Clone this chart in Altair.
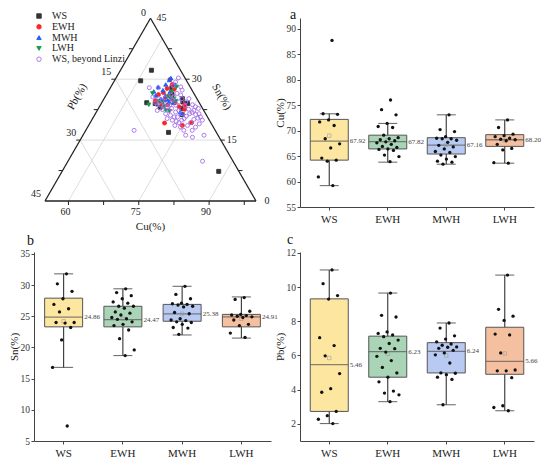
import altair as alt
import pandas as pd

FONT = "'Liberation Serif', 'Times New Roman', Times, serif"

# ---------------- box-plot data ----------------
GROUPS = ["WS", "EWH", "MWH", "LWH"]
BOX_FILL = ["#FCE6A0", "#A9D4B6", "#B9CAF2", "#F5C0A0"]

CU_WS = [87.7, 73.3, 73.2, 72.1, 71.7, 71.0, 68.4, 67.4, 66.6, 64.6, 64.2, 64.0, 60.9, 59.2]
CU_EWH = [76.0, 74.1, 73.1, 71.4, 70.8, 70.6, 69.1, 68.6, 68.4, 68.2, 68.0, 67.8, 67.6, 67.3,
          66.9, 66.7, 66.4, 66.3, 66.1, 65.2, 64.9, 63.9]
CU_MWH = [73.1, 70.2, 69.8, 68.8, 68.5, 68.4, 68.4, 68.1, 67.7, 67.1, 66.8, 66.4, 65.9, 65.7,
          65.2, 64.9, 64.4, 64.0, 63.8, 63.4]
CU_LWH = [72.1, 70.6, 69.3, 69.0, 68.8, 68.5, 68.3, 68.2, 68.0, 67.3, 66.5, 66.2, 63.7, 63.6]
CU_Q1 = [64.2, 66.4, 65.4, 66.9]
CU_MED = [67.92, 67.82, 67.16, 68.20]
CU_Q3 = [72.2, 69.1, 68.6, 69.2]
CU_LO = [59.2, 63.8, 63.4, 63.6]
CU_HI = [73.3, 71.4, 73.1, 72.1]
CU_MEAN = [69.0, 68.1, 67.2, 68.1]

SN_WS = [31.8, 30.2, 29.0, 27.8, 26.9, 26.2, 25.7, 24.0, 23.9, 24.0, 23.2, 21.2, 16.8, 7.4]
SN_EWH = [29.4, 28.8, 28.3, 27.8, 27.3, 27.1, 26.6, 26.6, 26.3, 25.7, 25.5, 25.2, 24.8, 24.6,
          24.5, 24.1, 23.7, 23.5, 22.8, 21.4, 19.6, 18.7]
SN_MWH = [29.8, 28.5, 27.8, 27.1, 27.0, 26.9, 26.8, 26.6, 26.5, 25.6, 25.4, 24.6, 24.4, 24.3,
          24.1, 24.0, 23.7, 23.2, 23.1, 22.1]
SN_LWH = [28.0, 27.7, 25.8, 25.3, 25.2, 25.1, 25.0, 24.9, 24.8, 24.4, 23.7, 23.5, 22.3, 21.6]
SN_Q1 = [23.3, 23.3, 24.2, 23.3]
SN_MED = [24.86, 24.47, 25.38, 24.91]
SN_Q3 = [27.9, 26.6, 26.9, 25.3]
SN_LO = [16.8, 18.7, 22.0, 21.5]
SN_HI = [31.8, 29.4, 29.8, 28.1]
SN_MEAN = [24.2, 24.6, 25.4, 24.6]

PB_WS = [11.0, 10.2, 9.5, 9.3, 7.04, 6.58, 5.98, 4.94, 4.06, 3.85, 2.73, 2.48, 2.27, 2.02]
PB_EWH = [9.65, 8.35, 8.25, 7.38, 7.29, 7.2, 7.1, 6.9, 6.7, 6.42, 6.4, 6.2, 5.95, 5.7, 5.3,
          4.98, 4.73, 4.46, 3.92, 3.8, 3.7, 3.3]
PB_MWH = [7.9, 7.6, 7.15, 6.96, 6.8, 6.67, 6.6, 6.5, 6.48, 6.42, 6.3, 6.15, 6.04, 5.56, 4.98,
          4.96, 4.88, 4.73, 4.6, 3.12]
PB_LWH = [10.7, 8.7, 8.3, 8.05, 7.25, 7.2, 6.15, 5.15, 5.1, 5.1, 4.7, 3.06, 2.96, 2.77]
PB_Q1 = [2.73, 4.73, 4.98, 4.90]
PB_MED = [5.46, 6.23, 6.24, 5.66]
PB_Q3 = [9.31, 7.13, 6.75, 7.65]
PB_LO = [2.02, 3.3, 3.12, 2.77]
PB_HI = [11.0, 9.65, 7.9, 10.7]
PB_MEAN = [5.85, 6.1, 6.0, 6.12]

# ---------------- ternary data (Sn %, Pb %; Cu = rest) ----------------
TERN_SERIES = ["WS", "EWH", "MWH", "LWH", "WS, beyond Linzi"]
TERN_SHAPE = ["square", "circle", "triangle-up", "triangle-down", "circle"]
TERN_FILL = ["#333333", "#FF2424", "#1E5CFF", "#109C4C", "transparent"]
TERN_STROKE = ["#333333", "#FF2424", "#1E5CFF", "#109C4C", "#A46FE6"]

T_WS_SN = [32.2, 29.6, 24.0, 24.2, 16.9, 7.3, 26.2, 27.9, 25.2, 24.4, 24.0, 21.3, 22.8, 23.1]
T_WS_PB = [6.2, 9.8, 9.5, 11.2, 10.2, 4.3, 4.8, 4.0, 3.1, 3.4, 2.6, 5.1, 4.4, 8.9]
T_EWH_SN = [29.9, 28.7, 27.7, 27.5, 26.7, 25.9, 25.2, 24.4, 24.2, 23.2, 22.6, 19.2, 18.6, 19.3,
            26.2, 25.2, 24.7, 23.6, 23.7, 23.7]
T_EWH_PB = [3.4, 3.5, 5.1, 3.7, 6.4, 5.6, 6.8, 8.1, 5.2, 4.8, 3.9, 9.9, 6.4, 4.1,
            7.7, 5.4, 9.1, 3.4, 7.0, 8.1]
T_MWH_SN = [30.3, 29.8, 28.1, 27.3, 27.0, 28.7, 26.9, 28.7, 25.0, 24.4, 24.8, 24.2, 21.9, 21.5,
            25.2, 26.0, 25.6, 26.0]
T_MWH_PB = [3.0, 3.6, 6.8, 6.2, 8.3, 4.9, 4.9, 2.9, 6.4, 6.3, 7.2, 5.6, 5.2, 5.1,
            7.7, 6.3, 5.1, 8.4]
T_LWH_SN = [28.1, 26.5, 25.1, 23.7, 22.3, 22.1, 23.2, 25.5, 25.6, 24.2, 24.6, 24.6, 26.9]
T_LWH_PB = [2.9, 8.8, 5.0, 11.0, 8.1, 7.4, 7.9, 5.5, 6.1, 7.9, 4.8, 8.4, 4.5]
T_OUT_SN = [30.3, 29.3, 28.1, 28.4, 27.3, 27.9, 27.9, 25.6, 25.2, 24.8, 25.4, 24.2, 23.7, 23.6,
            23.4, 23.2, 23.6, 22.8, 23.6, 24.4, 25.2, 24.4, 25.2, 23.7, 23.2, 22.8, 21.5, 21.3,
            21.8, 21.5, 20.9, 20.3, 19.9, 19.3, 19.6, 18.6, 18.2, 17.4, 16.2, 17.4, 18.2, 19.0,
            19.9, 16.2, 19.3, 18.6, 20.1, 20.7, 24.8, 22.3, 21.5, 21.1, 22.5, 22.3, 20.3, 19.9,
            20.7, 9.8, 17.4, 26.1, 26.5, 25.6, 23.4, 22.6, 22.3, 20.4, 21.5, 22.3, 21.9, 20.7,
            26.1, 15.7]
T_OUT_PB = [1.4, 2.5, 2.0, 3.5, 2.1, 8.8, 6.9, 9.2, 8.1, 7.6, 6.6, 9.3, 9.2, 8.5,
            7.9, 7.3, 6.6, 6.6, 5.3, 4.2, 3.2, 2.8, 1.7, 1.7, 1.3, 0.9, 1.4, 2.2,
            2.7, 3.4, 4.4, 5.2, 5.9, 6.8, 7.2, 8.0, 7.0, 6.7, 6.9, 4.9, 3.8, 2.6,
            1.5, 3.0, 4.3, 5.3, 3.2, 1.5, 5.4, 7.4, 8.5, 7.7, 8.7, 9.9, 8.8, 7.9,
            6.4, 6.5, 17.3, 3.0, 3.6, 4.7, 3.4, 3.1, 2.1, 2.2, 5.0, 5.3, 6.2, 7.1,
            5.1, 5.7]

SN_GRID = [15, 30]
PB_GRID = [15, 30]
CU_GRID = [60, 75, 90]
CU_TICKS = [60, 67.5, 75, 82.5, 90, 97.5]
SIDE_TICKS = [7.5, 15, 22.5, 30, 37.5]
CU_LABELS = [60, 75, 90]
PB_LABELS = [15, 30, 45]
PB_TOP_LABEL = [0]
SN_LABELS = [0, 15, 30, 45]

PANEL_H = 189
W_LEFT = 237
W_RIGHT = 234

# ---------------- ternary panel ----------------
XS = alt.Scale(domain=[-0.0521, 1.0711], nice=False, zero=False)
YS = alt.Scale(domain=[-0.0284, 0.8673], nice=False, zero=False)


def tx(sn, pb):
    return f"(45 - datum.{pb} - 0.5*datum.{sn})/45"


def ty(sn):
    return f"datum.{sn}/45*0.8660254"


def seg_chart(rows, color, width):
    df = pd.DataFrame(rows, columns=["sn1", "pb1", "sn2", "pb2"])
    return alt.Chart(df).transform_calculate(
        x1=tx("sn1", "pb1"), y1=ty("sn1"), x2=tx("sn2", "pb2"), y2=ty("sn2")
    ).mark_rule(color=color, strokeWidth=width).encode(
        x=alt.X("x1:Q", scale=XS, axis=None), y=alt.Y("y1:Q", scale=YS, axis=None),
        x2="x2:Q", y2="y2:Q")


grid_rows = ([(v, 45 - v, v, 0) for v in SN_GRID]
             + [(0, v, 45 - v, v) for v in PB_GRID]
             + [(0, 100 - c, 100 - c, 0) for c in CU_GRID])
edge_rows = [(45, 0, 0, 45), (0, 45, 0, 0), (0, 0, 45, 0)]
grid = seg_chart(grid_rows, "#d4d4d4", 0.8)
edges = seg_chart(edge_rows, "#222222", 1.3)


def pos_chart(df):
    return alt.Chart(df).transform_calculate(X=tx("sn", "pb"), Y=ty("sn"))


XE = alt.X("X:Q", scale=XS, axis=None)
YE = alt.Y("Y:Q", scale=YS, axis=None)

bot_df = pd.DataFrame({"sn": [0.0] * len(CU_TICKS), "pb": [100 - c for c in CU_TICKS]})
left_df = pd.DataFrame({"sn": [45 - v for v in SIDE_TICKS], "pb": SIDE_TICKS})
right_df = pd.DataFrame({"sn": SIDE_TICKS, "pb": [0.0] * len(SIDE_TICKS)})
ticks_b = pos_chart(bot_df).mark_rule(color="#222", strokeWidth=1, y2Offset=4).encode(x=XE, y=YE, y2="Y:Q")
ticks_l = pos_chart(left_df).mark_rule(color="#222", strokeWidth=1, x2Offset=-4).encode(x=XE, x2="X:Q", y=YE)
ticks_r = pos_chart(right_df).mark_rule(color="#222", strokeWidth=1, x2Offset=4).encode(x=XE, x2="X:Q", y=YE)


def lab_df(sn, pb, labs):
    return pd.DataFrame({"sn": sn, "pb": pb, "lab": [str(v) for v in labs]})


lab_b = lab_df([0.0] * 3, [100 - c for c in CU_LABELS], CU_LABELS)
lab_l = lab_df([45 - v for v in PB_LABELS], PB_LABELS, PB_LABELS)
lab_l0 = lab_df([45 - v for v in PB_TOP_LABEL], PB_TOP_LABEL, PB_TOP_LABEL)
lab_r = lab_df(SN_LABELS, [0.0] * 4, SN_LABELS)
tstyle = dict(font=FONT, fontSize=10, color="#222")
labels_b = pos_chart(lab_b).mark_text(dx=-3, dy=11, **tstyle).encode(x=XE, y=YE, text="lab:N")
labels_l = pos_chart(lab_l).mark_text(dx=-9, dy=-7.5, **tstyle).encode(x=XE, y=YE, text="lab:N")
labels_l0 = pos_chart(lab_l0).mark_text(dx=-7, dy=-5, **tstyle).encode(x=XE, y=YE, text="lab:N")
labels_r = pos_chart(lab_r).mark_text(dx=11, dy=0, **tstyle).encode(x=XE, y=YE, text="lab:N")

# offsets of rotated text are applied in the rotated frame
ttl = dict(font=FONT, fontSize=11, color="#222")
title_pb = pos_chart(pd.DataFrame({"sn": [22.7], "pb": [22.3], "lab": ["Pb(%)"]})).mark_text(
    angle=300, dx=0, dy=-24, **ttl).encode(x=XE, y=YE, text="lab:N")
title_sn = pos_chart(pd.DataFrame({"sn": [22.9], "pb": [0.0], "lab": ["Sn(%)"]})).mark_text(
    angle=60, dx=0, dy=-22, **ttl).encode(x=XE, y=YE, text="lab:N")
title_cu = pos_chart(pd.DataFrame({"sn": [0.0], "pb": [22.5], "lab": ["Cu(%)"]})).mark_text(
    dy=26, **ttl).encode(x=XE, y=YE, text="lab:N")

series_pts = [("WS", T_WS_SN, T_WS_PB), ("EWH", T_EWH_SN, T_EWH_PB), ("MWH", T_MWH_SN, T_MWH_PB),
              ("LWH", T_LWH_SN, T_LWH_PB), ("WS, beyond Linzi", T_OUT_SN, T_OUT_PB)]
tp = pd.DataFrame([{"series": s, "sn": a, "pb": b} for s, sns, pbs in series_pts for a, b in zip(sns, pbs)])
leg = alt.Legend(title=None, orient="none", legendX=0, legendY=-7, labelFont=FONT, labelFontSize=10,
                 labelColor="#222", symbolSize=20, symbolStrokeWidth=0.9, rowPadding=0.8,
                 labelOffset=8, padding=0)
points = pos_chart(tp).mark_point(size=16, strokeWidth=0.9, opacity=1).encode(
    x=XE, y=YE,
    shape=alt.Shape("series:N", scale=alt.Scale(domain=TERN_SERIES, range=TERN_SHAPE), legend=leg),
    fill=alt.Fill("series:N", scale=alt.Scale(domain=TERN_SERIES, range=TERN_FILL), legend=leg),
    stroke=alt.Stroke("series:N", scale=alt.Scale(domain=TERN_SERIES, range=TERN_STROKE), legend=leg),
)

tern = alt.layer(grid, edges, ticks_b, ticks_l, ticks_r, labels_b, labels_l, labels_l0, labels_r,
                 title_pb, title_sn, title_cu, points).properties(width=W_LEFT, height=PANEL_H)


# ---------------- box panels ----------------
def box_panel(lists, q1, med, q3, lo, hi, mean, domain, ticks, ytitle, letter, width,
              letter_dx, letter_dy):
    pts = pd.DataFrame({"g": [g for g, vs in zip(GROUPS, lists) for _ in vs],
                        "v": [v for vs in lists for v in vs]})
    st = pd.DataFrame({"g": GROUPS, "q1": q1, "med": med, "q3": q3, "lo": lo, "hi": hi, "mean": mean})
    xenc = alt.X("g:N", sort=GROUPS, title=None,
                 scale=alt.Scale(domain=GROUPS, paddingInner=0, paddingOuter=0),
                 axis=alt.Axis(labelAngle=0, labelFont=FONT, labelFontSize=11, labelColor="#222",
                               tickSize=3, tickColor="#444", domainColor="#444", labelPadding=3))
    ys = alt.Scale(domain=domain, nice=False, zero=False)
    yaxis = alt.Axis(values=ticks, grid=False, tickSize=3, tickColor="#444", domainColor="#444",
                     labelFont=FONT, labelFontSize=9.5, labelColor="#333", labelPadding=1.5,
                     labelOverlap=False, titleFont=FONT, titleFontSize=11, titleFontWeight="normal",
                     titleColor="#222", titlePadding=1)

    def Y(f):
        return alt.Y(f"{f}:Q", scale=ys, axis=yaxis, title=ytitle)

    base = alt.Chart(st)
    whisker = base.mark_rule(color="#333", strokeWidth=1.1).encode(x=xenc, y=Y("lo"), y2="hi:Q")
    box = base.mark_bar(size=38, stroke="#555", strokeWidth=1).encode(
        x=xenc, y=Y("q1"), y2="q3:Q",
        color=alt.Color("g:N", scale=alt.Scale(domain=GROUPS, range=BOX_FILL), legend=None))
    median = base.mark_tick(size=38, thickness=1.3, color="#555").encode(x=xenc, y=Y("med"))
    cap_lo = base.mark_tick(size=19, thickness=1.1, color="#333").encode(x=xenc, y=Y("lo"))
    cap_hi = base.mark_tick(size=19, thickness=1.1, color="#333").encode(x=xenc, y=Y("hi"))
    mean_pt = base.mark_point(shape="square", size=12, filled=False, color="#999",
                              strokeWidth=0.8).encode(x=xenc, y=Y("mean"))
    dots = alt.Chart(pts).transform_window(i="row_number()", groupby=["g"]).transform_calculate(
        jit="((datum.i * 0.618034) % 1) * 2 - 1"
    ).mark_circle(size=11, color="#111", opacity=1).encode(
        x=xenc, xOffset=alt.XOffset("jit:Q", scale=alt.Scale(domain=[-2.5, 2.5])), y=Y("v"))
    labels = base.mark_text(align="left", baseline="middle", dx=20.5, font=FONT, fontSize=7,
                            color="#444").encode(x=xenc, y=Y("med"),
                                                 text=alt.Text("med:Q", format=".2f"))
    return alt.layer(whisker, box, median, cap_lo, cap_hi, mean_pt, dots, labels).properties(
        width=width, height=PANEL_H,
        title=alt.TitleParams(letter, anchor="start", frame="group", font=FONT, fontSize=14,
                              fontWeight="normal", dx=letter_dx, dy=letter_dy, offset=2,
                              color="#111"))


box_a = box_panel([CU_WS, CU_EWH, CU_MWH, CU_LWH], CU_Q1, CU_MED, CU_Q3, CU_LO, CU_HI, CU_MEAN,
                  [55, 92.1], [55, 60, 65, 70, 75, 80, 85, 90], "Cu(%)", "a", W_RIGHT, -10, 6)
box_b = box_panel([SN_WS, SN_EWH, SN_MWH, SN_LWH], SN_Q1, SN_MED, SN_Q3, SN_LO, SN_HI, SN_MEAN,
                  [5, 35.3], [5, 10, 15, 20, 25, 30, 35], "Sn(%)", "b", W_LEFT, -7, 1)
box_c = box_panel([PB_WS, PB_EWH, PB_MWH, PB_LWH], PB_Q1, PB_MED, PB_Q3, PB_LO, PB_HI, PB_MEAN,
                  [1, 12.05], [2, 4, 6, 8, 10, 12], "Pb(%)", "c", W_RIGHT, -13, 1)

chart = alt.concat(tern, box_a, box_b, box_c, columns=2, bounds="flush",
                   spacing={"row": 45, "column": 29}).resolve_scale(
    xOffset="independent").properties(padding=0).configure_view(stroke=None)

chart.save("out.html", embed_options={"renderer": "svg", "actions": False})
